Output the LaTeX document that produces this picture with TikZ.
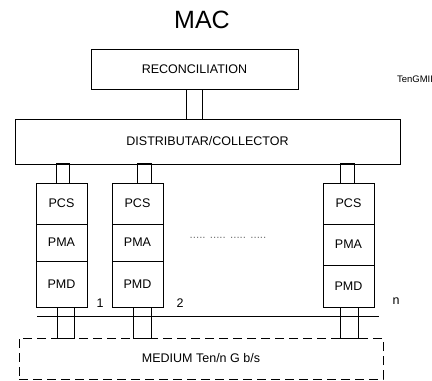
\documentclass[tikz,border=0pt]{standalone}
\usepackage{fontspec}
\setmainfont{Liberation Sans}
\usetikzlibrary{positioning}

\begin{document}
\begin{tikzpicture}[x=1pt, y=-1pt]
    \tikzset{
        block/.style = {rectangle, draw=black, line width=0.7pt, inner sep=0pt, outer sep=0pt, font=\fontsize{12.5}{14}\selectfont},
        layer/.style = {block, minimum width=51pt},
        link/.style = {rectangle, draw=black, line width=0.7pt, inner sep=0pt, outer sep=0pt},
        medium/.style = {block, dash pattern=on 9pt off 5pt},
        tag/.style = {inner sep=0pt, font=\fontsize{12.5}{14}\selectfont},
        line/.style = {draw=black, line width=0.7pt},
    }
    \useasboundingbox (0,0) rectangle (432,381);

    \node[tag, font=\fontsize{25}{28}\selectfont](mac) at (202,20){MAC};

    \node[block, minimum width=207pt, minimum height=40pt](recon) at (194.5,69){RECONCILIATION};

    \node[link, minimum width=16pt, minimum height=30pt](gmii)[below = 0pt of recon]{};

    \node[tag, font=\fontsize{9.5}{11}\selectfont](tengmii) at (415,79){TenGMII};

    \node[block, minimum width=385pt, minimum height=45pt](distr)[below = 0pt of gmii, xshift=13pt]{DISTRIBUTAR/COLLECTOR};

    % lane 1
    \node[layer, minimum height=41pt, anchor=north](pcsA) at (61.5,183){PCS};
    \node[layer, minimum height=37pt](pmaA)[below = 0pt of pcsA]{PMA};
    \node[layer, minimum height=46pt](pmdA)[below = 0pt of pmaA]{PMD};
    \node[link, minimum width=13pt, minimum height=20pt](upA)[above = 0pt of pcsA, xshift=1pt]{};
    \node[link, minimum width=17pt, minimum height=31pt](downA)[below = 0pt of pmdA, xshift=4pt]{};

    % lane 2
    \node[layer, minimum height=41pt, anchor=north](pcsB) at (137.5,183){PCS};
    \node[layer, minimum height=37pt](pmaB)[below = 0pt of pcsB]{PMA};
    \node[layer, minimum height=46pt](pmdB)[below = 0pt of pmaB]{PMD};
    \node[link, minimum width=14pt, minimum height=20pt](upB)[above = 0pt of pcsB, xshift=6.5pt]{};
    \node[link, minimum width=18pt, minimum height=31pt](downB)[below = 0pt of pmdB, xshift=4.5pt]{};

    % lane n
    \node[layer, minimum height=41pt, anchor=north](pcsN) at (348.5,183){PCS};
    \node[layer, minimum height=41pt](pmaN)[below = 0pt of pcsN]{PMA};
    \node[layer, minimum height=42pt](pmdN)[below = 0pt of pmaN]{PMD};
    \node[link, minimum width=14pt, minimum height=20pt](upN)[above = 0pt of pcsN, xshift=-1.5pt]{};
    \node[link, minimum width=18pt, minimum height=31pt](downN)[below = 0pt of pmdN, xshift=0.5pt]{};

    \node[tag, font=\fontsize{11.5}{13}\selectfont, text=black!55](dots) at (228,238){..... ..... ..... .....};

    \node[tag](numA) at (100,303){1};
    \node[tag](numB) at (180,303){2};
    \node[tag](numN) at (396,301){n};

    \coordinate (busL) at (37,316);
    \coordinate (busR) at (379,316);
    \path [line] (busL) -- (busR);

    \node[medium, minimum width=364pt, minimum height=41pt](medium) at (201,358.5){MEDIUM Ten/n G b/s};

\end{tikzpicture}
\end{document}
